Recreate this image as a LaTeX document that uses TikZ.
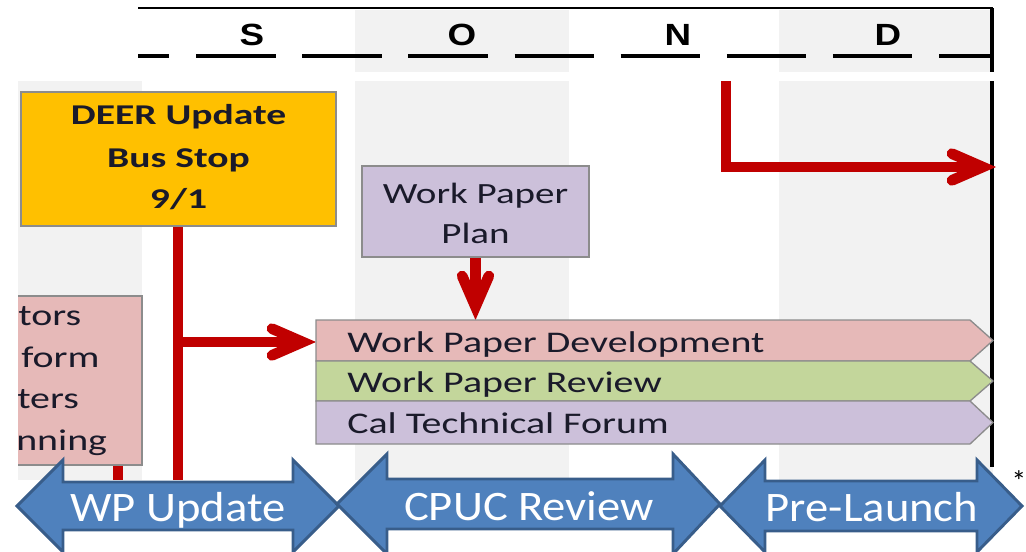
\documentclass[tikz,border=0pt]{standalone}
\usepackage{fontspec}
\setmainfont{Carlito}
\newfontfamily\boxfont[FakeStretch=1.33]{Carlito}
\newfontfamily\deerfont[FakeStretch=1.38]{Carlito}
\newfontfamily\arrowfont[FakeStretch=1.11]{Carlito}
\newfontfamily\headfont[FakeStretch=1.2]{Liberation Sans}
\usetikzlibrary{arrows.meta}
\definecolor{colgrey}{HTML}{F2F2F2}
\definecolor{deerorange}{HTML}{FFC000}
\definecolor{lav}{HTML}{CCC0DA}
\definecolor{pinkc}{HTML}{E6B9B8}
\definecolor{greenc}{HTML}{C3D69B}
\definecolor{redc}{HTML}{C00000}
\definecolor{bluefill}{HTML}{4F81BD}
\definecolor{blueedge}{HTML}{385D8A}
\definecolor{boxedge}{HTML}{8C8C8C}
\definecolor{txtdark}{HTML}{1A1A2A}
\begin{document}
\begin{tikzpicture}[x=0.75pt,y=-0.75pt,
  colbg/.style={fill=colgrey},
  boxstyle/.style={draw=boxedge,line width=1pt,inner sep=0pt},
  bartext/.style={anchor=base west,inner sep=0pt,text=txtdark,font=\boxfont\fontsize{22.5}{27}\selectfont},
  plantext/.style={anchor=base,inner sep=0pt,text=txtdark,font=\boxfont\fontsize{22}{27}\selectfont},
  deertext/.style={anchor=base,inner sep=0pt,text=txtdark,font=\deerfont\bfseries\fontsize{21.5}{27}\selectfont},
  headletter/.style={inner sep=0pt,anchor=base,font=\headfont\bfseries\fontsize{23}{27}\selectfont},
  redline/.style={draw=redc,line width=8pt},
  redarrow/.style={redline,-{Straight Barb[length=23pt,width=20pt,line cap=round]}},
  bluearr/.style={fill=bluefill,draw=blueedge,line width=2.2pt,line join=miter},
  arrtext/.style={anchor=base,inner sep=0pt,text=white,font=\arrowfont\fontsize{31.5}{36}\selectfont}
]
\useasboundingbox (0,0) rectangle (1026,551);
% column backgrounds
\fill[colbg] (355,10) rectangle (569,72);
\fill[colbg] (779,10) rectangle (993,72);
\fill[colbg] (18,81) rectangle (142,480);
\fill[colbg] (355,81) rectangle (569,480);
\fill[colbg] (779,81) rectangle (993,480);
% header
\draw[line width=1.8pt] (138,8) -- (993,8);
\draw[line width=3.5pt,dash pattern=on 59.6pt off 20pt,dash phase=36pt] (138,56) -- (993,56);
\draw[line width=2.5pt] (992,8) -- (992,72);
\draw[line width=2.5pt] (992,81) -- (992,467);
\node[headletter] (hS) at (252,45) {S};
\node[headletter] (hO) at (462,45) {O};
\node[headletter] (hN) at (678,45) {N};
\node[headletter] (hD) at (888,45) {D};
% coordinates
\coordinate (deerbottom) at (178,480);
\coordinate (branch) at (178,342);
\coordinate (devleft) at (316,342);
\coordinate (devtop) at (475.5,320);
\coordinate (topstart) at (726,81);
\coordinate (topcorner) at (726,167);
\coordinate (topend) at (996,167);
\coordinate (pinkstub) at (118,480);
% red connectors
\draw[redline] (178,226) -- (deerbottom);
\draw[redarrow] (branch) -- (devleft);
\draw[redarrow] (475.5,257) -- (devtop);
\draw[redarrow] (topstart) -- (topcorner) -- (topend);
\draw[redline] (118,465) -- (pinkstub);
% DEER box
\node[boxstyle,fill=deerorange,minimum width=236.25pt,minimum height=100.5pt] (deer) at (178.5,159) {};
\node[deertext] (deer1) at (178.5,124) {DEER Update};
\node[deertext] (deer2) at (178.5,167) {Bus Stop};
\node[deertext] (deer3) at (178.5,208) {9/1};
% Work Paper Plan
\node[boxstyle,fill=lav,minimum width=170.25pt,minimum height=68.25pt] (plan) at (475.5,211.5) {};
\node[plantext] (plan1) at (475.5,203) {Work Paper};
\node[plantext] (plan2) at (475.5,243) {Plan};
% pink box (clipped on the left)
\begin{scope}
\clip (18,0) rectangle (1026,551);
\draw[boxstyle,fill=pinkc] (0,296) rectangle (142,465);
\node[bartext] (p1) at (18,325) {tors};
\node[bartext] (p2) at (21,367) {form};
\node[bartext] (p3) at (17,408) {ters};
\node[bartext] (p4) at (16,450) {nning};
\end{scope}
% bars
\draw[boxstyle,fill=pinkc] (316,320) -- (970,320) -- (993,340.5) -- (970,361) -- (316,361) -- cycle;
\draw[boxstyle,fill=greenc] (316,361) -- (970,361) -- (993,381) -- (970,401) -- (316,401) -- cycle;
\draw[boxstyle,fill=lav] (316,401) -- (970,401) -- (993,422.5) -- (970,444) -- (316,444) -- cycle;
\node[bartext] (dev) at (347,352) {Work Paper Development};
\node[bartext] (rev) at (347,392) {Work Paper Review};
\node[bartext] (ctf) at (347,433) {Cal Technical Forum};
% blue double arrows
\draw[bluearr] (17,506) -- (63,460) -- (63,482) -- (293,482) -- (293,460) -- (339,506) -- (293,552) -- (293,530) -- (63,530) -- (63,552) -- cycle;
\draw[bluearr] (337,504) -- (387,454) -- (387,479) -- (673,479) -- (673,454) -- (720,504) -- (673,554) -- (673,529) -- (387,529) -- (387,554) -- cycle;
\draw[bluearr] (720,506) -- (765,460) -- (765,481) -- (977,481) -- (977,460) -- (1022,506) -- (977,552) -- (977,531) -- (765,531) -- (765,552) -- cycle;
\node[arrtext] (wp) at (178,521) {WP Update};
\node[arrtext] (cpuc) at (529,520) {CPUC Review};
\node[arrtext] (pre) at (872,521) {Pre-Launch};
\node[inner sep=0pt,font=\fontsize{22}{26}\selectfont] (star) at (1019,481) {*};
\end{tikzpicture}
\end{document}
